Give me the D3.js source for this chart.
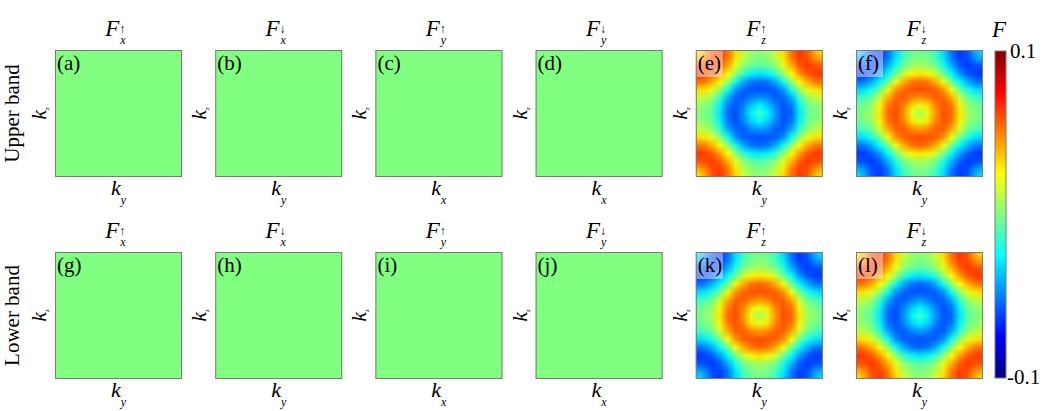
<!DOCTYPE html>
<meta charset="utf-8">
<script src="https://d3js.org/d3.v7.min.js"></script>
<style>
body { margin: 0; background: #fff; }
text { font-family: "Liberation Serif", "Times New Roman", serif; fill: #000; }
</style>
<body>
<div id="chart"></div>
</body>
<script>
// ---- data ----
var spins = ["↑", "↓", "↑", "↓", "↑", "↓"];
var comps = ["x", "x", "y", "y", "z", "z"];
var xlabs = ["y", "y", "x", "x", "y", "y"];
var letters = [["a", "b", "c", "d", "e", "f"], ["g", "h", "i", "j", "k", "l"]];
var rowNames = ["Upper band", "Lower band"];
var cbTicks = ["0.1", "-0.1"];

// in-plane components are flat zero
var zeroGrid = [[0]];

// F_z maps sampled on a 17x17 grid over the zone (rows top -> bottom)
// ring around centre negative, arcs at corners positive (panels e, l)
var fzA = [
  [.023,.038,.058,.065,.053,.033,.015,.006,.003,.006,.015,.033,.053,.065,.058,.038,.023],
  [.038,.046,.060,.063,.051,.030,.011,.002,-.001,.002,.011,.030,.051,.063,.060,.046,.038],
  [.058,.060,.064,.057,.040,.020,.003,-.005,-.008,-.005,.003,.020,.040,.057,.064,.060,.058],
  [.065,.063,.057,.044,.025,.003,-.016,-.027,-.030,-.027,-.016,.003,.025,.044,.057,.063,.065],
  [.053,.051,.040,.025,.003,-.022,-.041,-.052,-.055,-.052,-.041,-.022,.003,.025,.040,.051,.053],
  [.033,.030,.020,.003,-.022,-.046,-.056,-.059,-.060,-.059,-.056,-.046,-.022,.003,.020,.030,.033],
  [.015,.011,.003,-.016,-.041,-.056,-.057,-.049,-.045,-.049,-.057,-.056,-.041,-.016,.003,.011,.015],
  [.006,.002,-.005,-.027,-.052,-.059,-.049,-.034,-.026,-.034,-.049,-.059,-.052,-.027,-.005,.002,.006],
  [.003,-.001,-.008,-.030,-.055,-.060,-.045,-.026,-.012,-.026,-.045,-.060,-.055,-.030,-.008,-.001,.003],
  [.006,.002,-.005,-.027,-.052,-.059,-.049,-.034,-.026,-.034,-.049,-.059,-.052,-.027,-.005,.002,.006],
  [.015,.011,.003,-.016,-.041,-.056,-.057,-.049,-.045,-.049,-.057,-.056,-.041,-.016,.003,.011,.015],
  [.033,.030,.020,.003,-.022,-.046,-.056,-.059,-.060,-.059,-.056,-.046,-.022,.003,.020,.030,.033],
  [.053,.051,.040,.025,.003,-.022,-.041,-.052,-.055,-.052,-.041,-.022,.003,.025,.040,.051,.053],
  [.065,.063,.057,.044,.025,.003,-.016,-.027,-.030,-.027,-.016,.003,.025,.044,.057,.063,.065],
  [.058,.060,.064,.057,.040,.020,.003,-.005,-.008,-.005,.003,.020,.040,.057,.064,.060,.058],
  [.038,.046,.060,.063,.051,.030,.011,.002,-.001,.002,.011,.030,.051,.063,.060,.046,.038],
  [.023,.038,.058,.065,.053,.033,.015,.006,.003,.006,.015,.033,.053,.065,.058,.038,.023]
];
// ring around centre positive, corners negative (panels f, k)
var fzB = [
  [-.023,-.038,-.058,-.065,-.053,-.033,-.015,-.006,-.003,-.006,-.015,-.033,-.053,-.065,-.058,-.038,-.023],
  [-.038,-.046,-.060,-.063,-.051,-.030,-.011,-.002,.001,-.002,-.011,-.030,-.051,-.063,-.060,-.046,-.038],
  [-.058,-.060,-.064,-.057,-.040,-.020,-.003,.005,.008,.005,-.003,-.020,-.040,-.057,-.064,-.060,-.058],
  [-.065,-.063,-.057,-.044,-.025,-.003,.016,.027,.030,.027,.016,-.003,-.025,-.044,-.057,-.063,-.065],
  [-.053,-.051,-.040,-.025,-.003,.022,.041,.052,.055,.052,.041,.022,-.003,-.025,-.040,-.051,-.053],
  [-.033,-.030,-.020,-.003,.022,.046,.056,.059,.060,.059,.056,.046,.022,-.003,-.020,-.030,-.033],
  [-.015,-.011,-.003,.016,.041,.056,.057,.049,.045,.049,.057,.056,.041,.016,-.003,-.011,-.015],
  [-.006,-.002,.005,.027,.052,.059,.049,.030,.020,.030,.049,.059,.052,.027,.005,-.002,-.006],
  [-.003,.001,.008,.030,.055,.060,.045,.020,.006,.020,.045,.060,.055,.030,.008,.001,-.003],
  [-.006,-.002,.005,.027,.052,.059,.049,.030,.020,.030,.049,.059,.052,.027,.005,-.002,-.006],
  [-.015,-.011,-.003,.016,.041,.056,.057,.049,.045,.049,.057,.056,.041,.016,-.003,-.011,-.015],
  [-.033,-.030,-.020,-.003,.022,.046,.056,.059,.060,.059,.056,.046,.022,-.003,-.020,-.030,-.033],
  [-.053,-.051,-.040,-.025,-.003,.022,.041,.052,.055,.052,.041,.022,-.003,-.025,-.040,-.051,-.053],
  [-.065,-.063,-.057,-.044,-.025,-.003,.016,.027,.030,.027,.016,-.003,-.025,-.044,-.057,-.063,-.065],
  [-.058,-.060,-.064,-.057,-.040,-.020,-.003,.005,.008,.005,-.003,-.020,-.040,-.057,-.064,-.060,-.058],
  [-.038,-.046,-.060,-.063,-.051,-.030,-.011,-.002,.001,-.002,-.011,-.030,-.051,-.063,-.060,-.046,-.038],
  [-.023,-.038,-.058,-.065,-.053,-.033,-.015,-.006,-.003,-.006,-.015,-.033,-.053,-.065,-.058,-.038,-.023]
];
var grids = [
  [zeroGrid, zeroGrid, zeroGrid, zeroGrid, fzA, fzB],
  [zeroGrid, zeroGrid, zeroGrid, zeroGrid, fzB, fzA]
];

// ---- layout ----
var W = 1045, H = 411;
var size = 127, x0 = 55, step = 160.2;
var rowTop = [50, 252];

var svg = d3.select("#chart").append("svg")
    .attr("width", W).attr("height", H);

// jet colormap
var jet = d3.scaleLinear()
    .domain([-0.1, -0.075, -0.025, 0.025, 0.075, 0.1])
    .range(["#000080", "#0000ff", "#00ffff", "#ffff00", "#ff0000", "#800000"])
    .clamp(true);

var px = d3.scaleLinear().domain([0, 5]).range([x0, x0 + 5 * step]);

function gridImage(grid) {
  var n = grid.length, m = grid[0].length;
  var cv = document.createElement("canvas");
  cv.width = m; cv.height = n;
  var ctx = cv.getContext("2d");
  var img = ctx.createImageData(m, n);
  for (var r = 0; r < n; r++) {
    for (var c = 0; c < m; c++) {
      var col = d3.rgb(jet(grid[r][c]));
      var k = (r * m + c) * 4;
      img.data[k] = col.r; img.data[k + 1] = col.g; img.data[k + 2] = col.b; img.data[k + 3] = 255;
    }
  }
  ctx.putImageData(img, 0, 0);
  return cv.toDataURL();
}

var defs = svg.append("defs");

rowTop.forEach(function(top, ri) {
  for (var ci = 0; ci < 6; ci++) {
    var left = px(ci);
    var grid = grids[ri][ci];
    var id = "clip" + ri + "_" + ci;
    defs.append("clipPath").attr("id", id)
      .append("rect").attr("x", left).attr("y", top).attr("width", size).attr("height", size);

    var g = svg.append("g");
    if (grid.length === 1) {
      g.append("rect")
        .attr("x", left).attr("y", top).attr("width", size).attr("height", size)
        .attr("fill", jet(grid[0][0]));
    } else {
      // grid points sit on the panel edges, so extend by half a cell and clip
      var cell = size / (grid.length - 1);
      g.append("image")
        .attr("clip-path", "url(#" + id + ")")
        .attr("href", gridImage(grid))
        .attr("preserveAspectRatio", "none")
        .attr("x", left - cell / 2).attr("y", top - cell / 2)
        .attr("width", size + cell).attr("height", size + cell);
      g.append("rect")
        .attr("x", left).attr("y", top).attr("width", 27).attr("height", 27)
        .attr("fill", "#fff").attr("fill-opacity", 0.45);
    }
    g.append("rect")
      .attr("x", left + 0.5).attr("y", top + 0.5).attr("width", size - 1).attr("height", size - 1)
      .attr("fill", "none").attr("stroke", "#7a7a7a").attr("stroke-width", 1);

    // panel letter
    g.append("text").attr("x", left + 2).attr("y", top + 20)
      .style("font-size", "21px").text("(" + letters[ri][ci] + ")");

    // title F^spin_comp
    var cx = left + size / 2;
    var t = g.append("text").attr("x", cx - 3).attr("y", top - 14)
      .attr("text-anchor", "middle");
    t.append("tspan").style("font-style", "italic").style("font-size", "23px").text("F");
    t.append("tspan").style("font-size", "12px").attr("dy", -3).text(spins[ci]);
    t.append("tspan").style("font-style", "italic").style("font-size", "12px")
      .attr("dx", -5).attr("dy", 11).text(comps[ci]);

    // bottom k label
    var b = g.append("text").attr("x", cx).attr("y", top + 145).attr("text-anchor", "middle");
    b.append("tspan").style("font-style", "italic").style("font-size", "22px").text("k");
    b.append("tspan").style("font-style", "italic").style("font-size", "12px")
      .attr("dy", 9).text(xlabs[ci]);

    // left k_z label
    var lx = left - 9, ly = top + size / 2;
    var l = g.append("text").attr("transform", "translate(" + lx + "," + ly + ") rotate(-90)")
      .attr("text-anchor", "middle");
    l.append("tspan").style("font-style", "italic").style("font-size", "22px").text("k");
    l.append("tspan").style("font-style", "italic").style("font-size", "7px")
      .attr("dy", 3).text("z");
  }

  svg.append("text")
    .attr("transform", "translate(19," + (top + size / 2) + ") rotate(-90)")
    .attr("text-anchor", "middle").style("font-size", "21px")
    .text(rowNames[ri]);
});

// colorbar
var cbX = 995, cbW = 11, cbTop = 51, cbBot = 378;
var cbY = d3.scaleLinear().domain([-0.1, 0.1]).range([cbBot, cbTop]);
var grad = defs.append("linearGradient").attr("id", "cbgrad")
  .attr("x1", 0).attr("y1", 1).attr("x2", 0).attr("y2", 0);
jet.domain().forEach(function(v) {
  grad.append("stop").attr("offset", (v + 0.1) / 0.2).attr("stop-color", jet(v));
});
svg.append("rect").attr("x", cbX).attr("y", cbY(0.1)).attr("width", cbW)
  .attr("height", cbY(-0.1) - cbY(0.1)).attr("fill", "url(#cbgrad)")
  .attr("stroke", "#7a7a7a").attr("stroke-width", 1);
svg.append("text").attr("x", 1010).attr("y", cbY(0.1) + 7).style("font-size", "21px").text(cbTicks[0]);
svg.append("text").attr("x", 1007).attr("y", cbY(-0.1) + 6).style("font-size", "21px").text(cbTicks[1]);
svg.append("text").attr("x", 992).attr("y", 37).style("font-size", "23px").style("font-style", "italic").text("F");
</script>
